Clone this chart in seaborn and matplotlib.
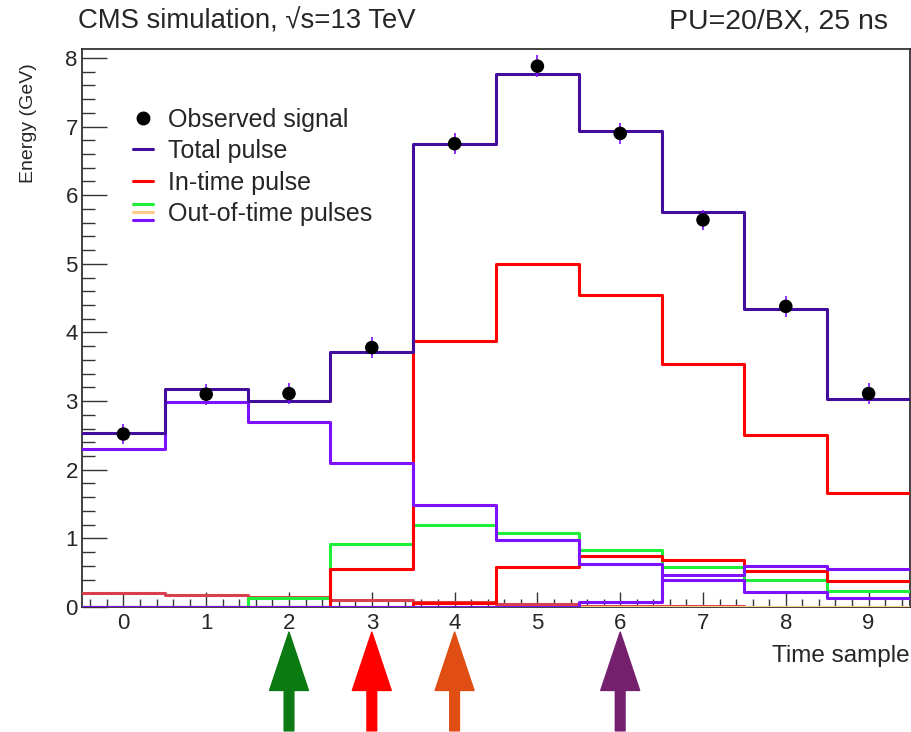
import numpy as np
import matplotlib
matplotlib.use("Agg")
import matplotlib.pyplot as plt
import seaborn as sns
from matplotlib.ticker import MultipleLocator
from matplotlib.legend_handler import HandlerBase
from matplotlib.lines import Line2D

# time samples (bin centres) and bin edges
samples = [0, 1, 2, 3, 4, 5, 6, 7, 8, 9]
edges = [-0.5, 0.5, 1.5, 2.5, 3.5, 4.5, 5.5, 6.5, 7.5, 8.5, 9.5]

# values (GeV)
observed = [2.52, 3.10, 3.11, 3.78, 6.75, 7.88, 6.90, 5.64, 4.38, 3.11]
observed_err = [0.15, 0.15, 0.15, 0.15, 0.15, 0.16, 0.15, 0.15, 0.15, 0.15]
total_pulse = [2.53, 3.18, 3.00, 3.72, 6.74, 7.77, 6.93, 5.75, 4.34, 3.03]
in_time = [0.0, 0.0, 0.0, 0.56, 3.87, 5.00, 4.55, 3.54, 2.50, 1.66]
oot_early = [2.30, 2.98, 2.70, 2.10, 1.48, 0.98, 0.62, 0.39, 0.22, 0.13]
oot_green = [0.0, 0.0, 0.13, 0.92, 1.19, 1.08, 0.83, 0.58, 0.39, 0.24]
oot_red = [0.0, 0.0, 0.0, 0.0, 0.06, 0.59, 0.74, 0.685, 0.53, 0.38]
oot_faint = [0.20, 0.175, 0.14, 0.10, 0.07, 0.04, 0.02, 0.01, 0.0, 0.0]
oot_orange = [0.0, 0.0, 0.0, 0.0, 0.0, 0.0, 0.0, 0.0, 0.0, 0.0]
oot_late = [0.0, 0.0, 0.0, 0.0, 0.0, 0.0, 0.07, 0.46, 0.60, 0.55]

arrow_samples = [2, 3, 4, 6]
arrow_colors = ["#0b7a12", "#ff0000", "#e04e14", "#74206e"]

c_total = "#430c9c"
c_violet = "#7f10ff"
c_red = "#ff0000"
c_green = "#1ef03a"
c_orange = "#ffcc88"
c_faint = "#d9404f"


class StackedLines:
    def __init__(self, colors):
        self.colors = colors


class StackedLinesHandler(HandlerBase):
    def create_artists(self, legend, orig_handle, xdescent, ydescent,
                       width, height, fontsize, trans):
        arts = []
        for i, c in enumerate(orig_handle.colors):
            y = height * (0.95 - 0.45 * i) - ydescent
            arts.append(Line2D([-xdescent, width - xdescent], [y, y], color=c,
                               lw=2.2, transform=trans))
        return arts


sns.set_style("ticks")
plt.rcParams['font.family'] = ['Liberation Sans', 'DejaVu Sans']

fig = plt.figure(figsize=(9.12, 7.32), dpi=100)
ax = fig.add_axes([82 / 912, 1 - 607 / 732, 828 / 912, 558 / 732])

lw = 2.2
layers = [
    (oot_faint, c_faint),
    (oot_orange, c_orange),
    (oot_green, c_green),
    (oot_red, c_red),
    (in_time, c_red),
    (oot_early, c_violet),
    (oot_late, c_violet),
    (total_pulse, c_total),
]
for vals, col in layers:
    sns.histplot(x=samples, weights=vals, bins=edges, element="step",
                 fill=False, color=col, linewidth=lw, zorder=3, ax=ax)

ax.errorbar(samples, observed, yerr=observed_err, fmt="none",
            ecolor=c_violet, elinewidth=1.2, zorder=5)
sns.scatterplot(x=samples, y=observed, color="black", s=95,
                edgecolor="none", zorder=6, ax=ax)

ax.set_xlim(-0.5, 9.5)
ax.set_ylim(0, 8.13)
ax.xaxis.set_major_locator(MultipleLocator(1))
ax.xaxis.set_minor_locator(MultipleLocator(0.2))
ax.yaxis.set_major_locator(MultipleLocator(1))
ax.yaxis.set_minor_locator(MultipleLocator(0.2))
ax.tick_params(axis="x", which="major", direction="in", length=11, width=1,
               color="#333333", labelsize=16, pad=4)
ax.tick_params(axis="x", which="minor", direction="in", length=5.5, width=1,
               color="#333333")
ax.tick_params(axis="y", which="major", direction="in", length=18, width=1,
               color="#333333", labelsize=16, pad=3)
ax.tick_params(axis="y", which="minor", direction="in", length=9, width=1,
               color="#333333")
for sp in ax.spines.values():
    sp.set_color("#333333")
    sp.set_linewidth(1.3)

ax.set_xlabel("Time sample", loc="right", fontsize=17.5, labelpad=8)
ax.set_ylabel("Energy (GeV)", loc="top", fontsize=14)
ax.yaxis.set_label_coords(-0.054, 0.975)

handles = [
    Line2D([], [], marker="o", ls="none", color="black", markersize=9),
    Line2D([], [], color=c_total, lw=lw),
    Line2D([], [], color=c_red, lw=lw),
    StackedLines([c_green, c_orange, c_violet]),
]
labels = ["Observed signal", "Total pulse", "In-time pulse", "Out-of-time pulses"]
ax.legend(handles, labels, loc="upper left", bbox_to_anchor=(0.062, 0.895),
          frameon=False, fontsize=18, handlelength=0.8, handletextpad=0.6,
          labelspacing=0.3, borderpad=0, borderaxespad=0,
          handler_map={StackedLines: StackedLinesHandler()})

fig.text(78 / 912, 1 - 22 / 732, "CMS simulation, \u221as=13 TeV",
         fontsize=19.8, ha="left", va="center")
fig.text(888 / 912, 1 - 22 / 732, "PU=20/BX, 25 ns",
         fontsize=20.5, ha="right", va="center")

for s, col in zip(arrow_samples, arrow_colors):
    ax.annotate("", xy=(s, -0.045), xytext=(s, -0.222),
                xycoords=("data", "axes fraction"),
                textcoords=("data", "axes fraction"),
                arrowprops=dict(arrowstyle="simple,head_length=4.2,head_width=2.8,tail_width=0.7",
                                color=col, mutation_scale=10,
                                shrinkA=0, shrinkB=0),
                annotation_clip=False)

fig.savefig("out.png", dpi=100)
